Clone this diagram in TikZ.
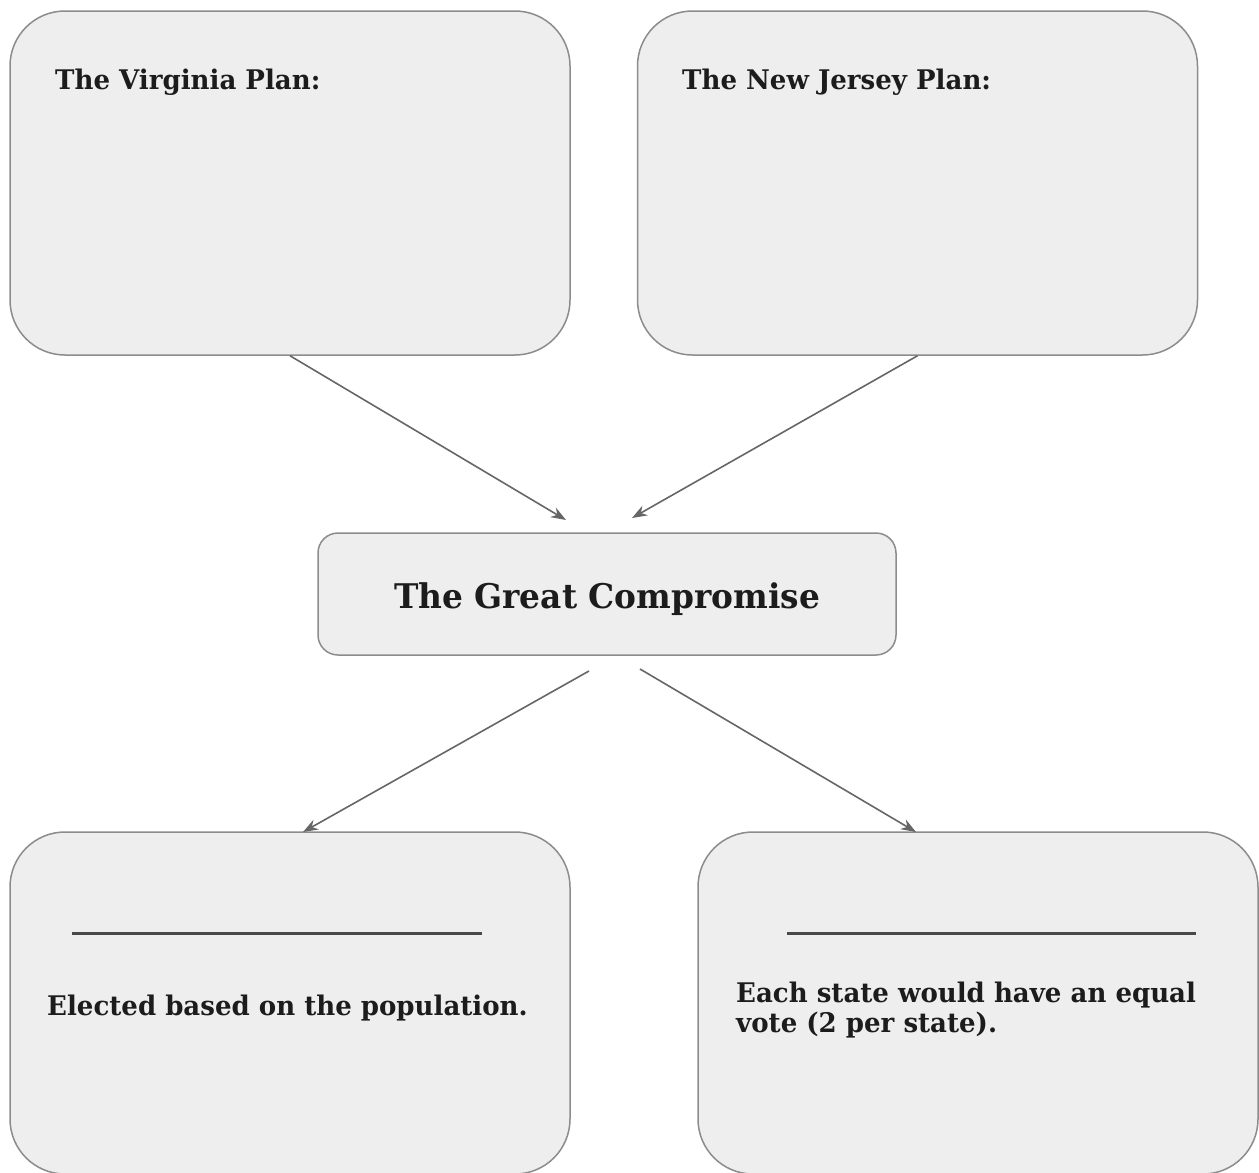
\documentclass[tikz,border=0pt]{standalone}
\usepackage{fontspec}
\setmainfont{DejaVu Serif}[FakeStretch=0.965]
\usepackage{tikz}
\usetikzlibrary{positioning,arrows.meta,calc}
\definecolor{boxfill}{HTML}{EEEEEE}
\definecolor{boxline}{HTML}{8C8C8C}
\definecolor{arrowline}{HTML}{666666}
\definecolor{textdark}{HTML}{1C1C1C}
\tikzset{
plan box/.style={
  draw=boxline, fill=boxfill, line width=1.5pt,
  rectangle, rounded corners=55pt,
  minimum width=560pt, minimum height=344pt
},
result box/.style={
  plan box, minimum height=342pt
},
middle box/.style={
  draw=boxline, fill=boxfill, line width=1.5pt,
  rectangle, rounded corners=20pt,
  minimum width=578pt, minimum height=122pt,
  text height=28pt, text depth=0pt,
  font=\fontsize{34}{38}\selectfont\bfseries, text=textdark
},
label text/.style={
  anchor=base west, inner sep=0pt, text=textdark,
  font=\fontsize{27}{30}\selectfont\bfseries
},
link/.style={
  draw=arrowline, line width=1.6pt,
  -{Stealth[length=15pt,width=11pt]}
},
blank line/.style={
  draw=textdark!80, line width=3pt
},
}

\begin{document}
\begin{tikzpicture}[x=1pt,y=-1pt]
  \useasboundingbox (0,0) rectangle (1259,1173);
  % the two plans
  \node[plan box] (virginia) at (290,183) {};
  \node[plan box] (jersey) at (917.5,183) {};
  \node[label text] (virginiaTitle) at (55,89) {The Virginia Plan:};
  \node[label text] (jerseyTitle) at (682,89) {The New Jersey Plan:};
  % the compromise
  \node[middle box] (compromise) at (607,594) {The Great Compromise};
  % the two houses
  \node[result box] (house) at (290,1003) {};
  \node[result box] (senate) at (978,1003) {};
  \coordinate (houseLineL) at (72,933);
  \coordinate (houseLineR) at (482,933);
  \coordinate (senateLineL) at (787,933);
  \coordinate (senateLineR) at (1196,933);
  \draw[blank line] (houseLineL) -- (houseLineR);
  \draw[blank line] (senateLineL) -- (senateLineR);
  \node[label text] (houseText) at (47,1015) {Elected based on the population.};
  \node[label text, align=left] (senateText) at (736,1032)
    {Each state would have an equal\\vote (2 per state).};
  % connectors
  \coordinate (inLeft) at (566,520);
  \coordinate (inRight) at (632,518);
  \coordinate (outLeft) at (589,671);
  \coordinate (outRight) at (640,669);
  \coordinate (houseTop) at (303,832);
  \coordinate (senateTop) at (916,832);
  \draw[link] (virginia.south) -- (inLeft);
  \draw[link] (jersey.south) -- (inRight);
  \draw[link] (outLeft) -- (houseTop);
  \draw[link] (outRight) -- (senateTop);
\end{tikzpicture}
\end{document}
